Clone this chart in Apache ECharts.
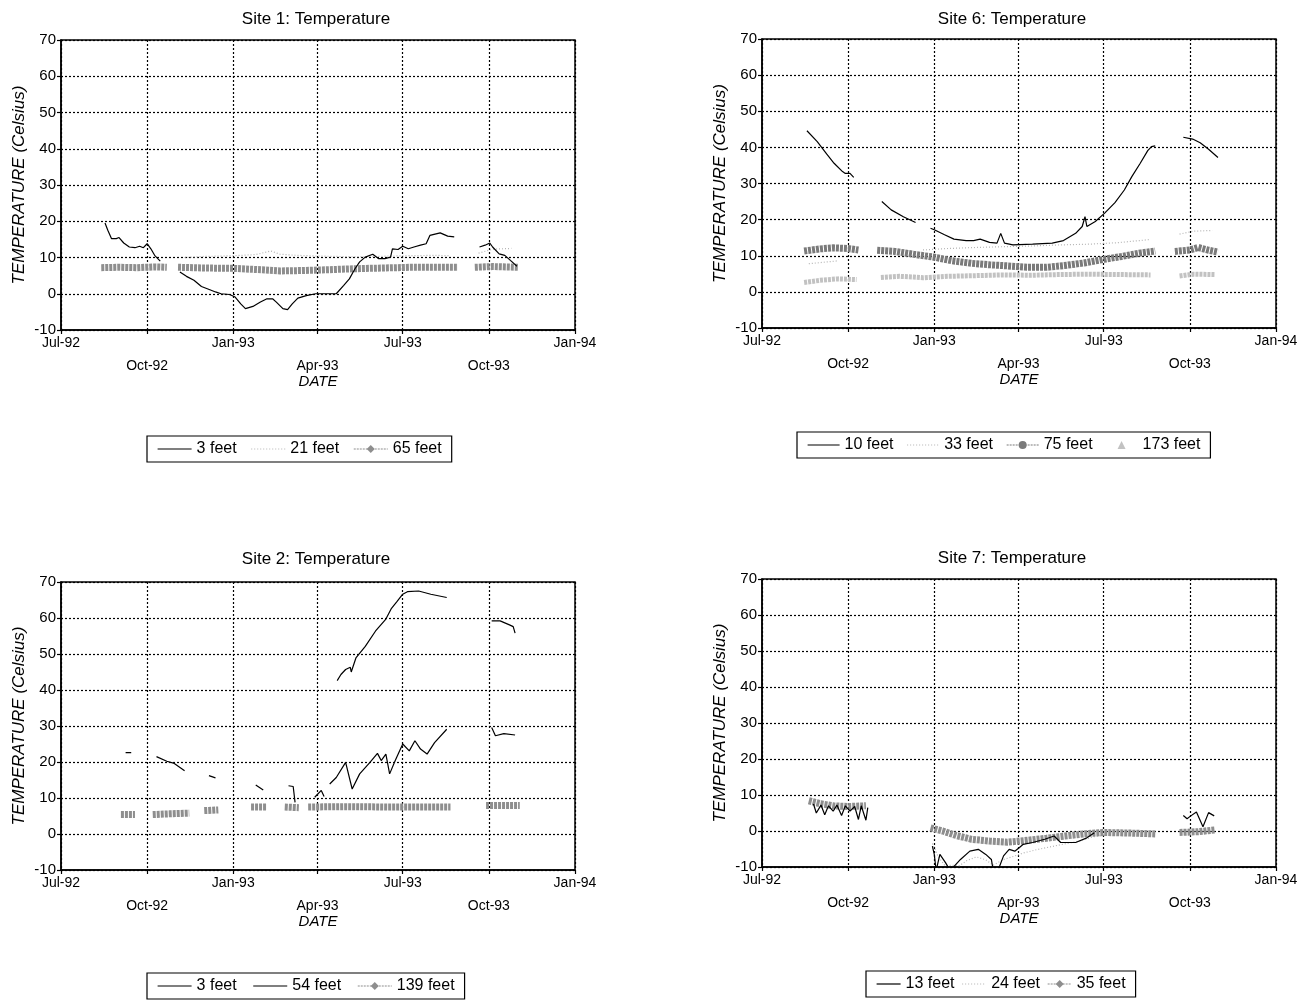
<!DOCTYPE html>
<html><head><meta charset="utf-8">
<script src="https://cdn.jsdelivr.net/npm/echarts@6/dist/echarts.min.js"></script>
<style>
html,body{margin:0;padding:0;background:#fff;}
.c{position:absolute;width:656px;height:502px;}
</style></head>
<body>
<div id="c1" class="c" style="left:0;top:0"></div>
<div id="c6" class="c" style="left:656px;top:0"></div>
<div id="c2" class="c" style="left:0;top:502px"></div>
<div id="c7" class="c" style="left:656px;top:502px"></div>
<script>
// ---------- DATA ----------
const tickDates  = ['1992-07-01','1992-10-01','1993-01-01','1993-04-01','1993-07-01','1993-10-01','1994-01-01'];
const tickLabels = ['Jul-92','Oct-92','Jan-93','Apr-93','Jul-93','Oct-93','Jan-94'];
const yTicks = [-10,0,10,20,30,40,50,60,70];

// Site 1
const s1_3ft = [['1992-08-17',19.5],['1992-08-20',17.5],['1992-08-24',15.2],['1992-08-29',15.2],['1992-09-01',15.5],['1992-09-06',14.0],['1992-09-12',12.9],['1992-09-18',12.7],['1992-09-23',13.1],['1992-09-27',12.7],['1992-10-01',13.8],['1992-10-05',12.4],['1992-10-09',10.6],['1992-10-15',9.0],
['1992-10-25',null],
['1992-11-05',6.0],['1992-11-12',4.8],['1992-11-20',3.7],['1992-11-28',2.0],['1992-12-07',1.1],['1992-12-13',0.5],['1992-12-19',0.0],['1992-12-28',-0.2],['1993-01-03',-0.9],['1993-01-09',-2.8],['1993-01-14',-4.1],['1993-01-22',-3.5],['1993-01-30',-2.3],['1993-02-06',-1.4],['1993-02-12',-1.4],['1993-02-16',-2.3],['1993-02-23',-4.1],['1993-02-28',-4.4],['1993-03-05',-2.8],['1993-03-11',-1.2],['1993-03-20',-0.5],['1993-03-30',0.0],['1993-04-12',0.0],['1993-04-21',0.0],['1993-04-29',2.3],['1993-05-05',4.1],['1993-05-11',6.9],['1993-05-16',8.8],['1993-05-22',10.1],['1993-05-30',10.9],['1993-06-05',9.7],['1993-06-12',9.7],['1993-06-18',10.1],['1993-06-20',12.4],['1993-06-26',12.2],['1993-07-01',13.1],['1993-07-07',12.4],['1993-07-13',12.9],['1993-07-20',13.4],['1993-07-26',13.8],['1993-07-30',16.1],['1993-08-10',16.8],['1993-08-18',15.9],['1993-08-25',15.7],
['1993-09-10',null],
['1993-09-21',12.9],['1993-09-27',13.4],['1993-10-02',14.0],['1993-10-05',12.9],['1993-10-12',11.0],['1993-10-18',10.6],['1993-10-24',9.2],['1993-10-31',7.6]];
const s1_21ft = [['1992-11-10',10.0],['1992-12-01',10.3],['1992-12-20',10.4],['1993-01-10',10.6],['1993-01-25',10.8],['1993-02-10',11.8],['1993-02-20',10.9],['1993-03-10',10.6],['1993-04-01',10.4],['1993-04-20',10.3],['1993-05-10',10.2],['1993-06-01',10.3],['1993-06-20',10.4],['1993-07-10',10.5],['1993-08-05',10.6],['1993-08-20',10.5],
['1993-09-05',null],['1993-09-20',11.2],['1993-10-05',12.3],['1993-10-25',12.5]];
const s1_65ft = [['1992-08-13',7.2],['1992-09-01',7.3],['1992-09-20',7.2],['1992-10-10',7.4],['1992-10-22',7.3],
['1992-10-28',null],
['1992-11-03',7.3],['1992-12-01',7.1],['1993-01-01',7.0],['1993-02-01',6.6],['1993-02-20',6.3],['1993-03-15',6.4],['1993-04-10',6.6],['1993-05-10',6.9],['1993-06-10',7.1],['1993-07-10',7.3],['1993-08-29',7.3],
['1993-09-08',null],
['1993-09-16',7.3],['1993-10-05',7.5],['1993-11-01',7.3]];

// Site 6
const s6_10ft = [['1992-08-18',44.6],['1992-08-29',41.6],['1992-09-08',38.2],['1992-09-16',35.6],['1992-09-25',33.3],['1992-09-28',32.8],['1992-10-03',32.8],['1992-10-07',31.7],
['1992-10-20',null],
['1992-11-06',25.0],['1992-11-16',22.7],['1992-11-29',20.8],['1992-12-12',19.2],
['1992-12-20',null],
['1992-12-28',17.6],['1993-01-01',17.2],['1993-01-12',15.8],['1993-01-22',14.6],['1993-02-04',14.2],['1993-02-12',14.2],['1993-02-19',14.6],['1993-03-01',13.7],['1993-03-09',13.5],['1993-03-13',16.2],['1993-03-17',13.5],['1993-03-26',13.0],['1993-04-16',13.2],['1993-05-07',13.5],['1993-05-19',14.2],['1993-06-01',16.2],['1993-06-08',18.1],['1993-06-11',20.8],['1993-06-13',18.1],['1993-06-22',19.5],['1993-07-02',21.8],['1993-07-13',24.7],['1993-07-23',28.2],['1993-07-31',31.9],['1993-08-09',35.6],['1993-08-17',39.1],['1993-08-21',40.2],['1993-08-25',40.4],
['1993-09-10',null],
['1993-09-24',42.8],['1993-10-04',42.3],['1993-10-12',41.3],['1993-10-21',39.5],['1993-10-31',37.2]];
const s6_33ft = [['1992-08-20',7.8],['1992-09-05',8.2],['1992-09-20',8.6],
['1992-10-01',null],
['1992-12-20',11.6],['1993-01-15',12.0],['1993-02-15',12.3],['1993-03-15',12.5],['1993-04-15',12.7],['1993-05-15',13.0],['1993-06-15',13.2],['1993-07-15',13.6],['1993-08-20',14.5],
['1993-09-05',null],
['1993-09-20',16.0],['1993-10-05',16.8],['1993-10-25',17.0]];
const s6_75ft = [['1992-08-15',11.3],['1992-09-01',11.9],['1992-09-15',12.2],['1992-10-01',12.0],['1992-10-12',11.6],
['1992-10-20',null],
['1992-11-01',11.5],['1992-11-20',11.2],['1992-12-10',10.4],['1993-01-01',9.6],['1993-01-20',8.6],['1993-02-10',7.9],['1993-03-01',7.5],['1993-03-20',7.2],['1993-04-10',6.8],['1993-05-01',6.8],['1993-05-20',7.3],['1993-06-10',8.0],['1993-07-01',9.0],['1993-07-20',9.8],['1993-08-10',10.8],['1993-08-25',11.3],
['1993-09-05',null],
['1993-09-15',11.2],['1993-10-01',11.6],['1993-10-10',12.3],['1993-10-20',11.6],['1993-10-31',11.0]];
const s6_173ft = [['1992-08-15',2.6],['1992-09-01',3.2],['1992-09-20',3.6],['1992-10-10',3.4],
['1992-10-25',null],
['1992-11-05',4.0],['1992-11-25',4.3],['1992-12-10',4.1],['1992-12-20',3.9],['1993-01-15',4.3],['1993-02-15',4.5],['1993-03-15',4.7],['1993-04-15',4.6],['1993-05-15',4.8],['1993-06-15',4.9],['1993-07-15',4.8],['1993-08-20',4.7],
['1993-09-05',null],
['1993-09-20',4.4],['1993-10-05',4.9],['1993-10-28',4.8]];

// Site 2
const s2_3ft = [['1993-04-22',42.6],['1993-04-26',44.3],['1993-05-01',45.7],['1993-05-06',46.3],['1993-05-07',45.0],['1993-05-12',48.9],['1993-05-22',52.1],['1993-06-02',56.4],['1993-06-13',59.7],['1993-06-19',62.7],['1993-06-25',64.6],['1993-07-01',66.6],['1993-07-06',67.3],['1993-07-18',67.5],['1993-07-31',66.6],['1993-08-17',65.7],
['1993-09-01',null],
['1993-10-04',59.2],['1993-10-13',59.2],['1993-10-23',58.1],['1993-10-27',57.6],['1993-10-29',55.8]];
const s2_54ft = [['1992-09-08',22.6],['1992-09-14',22.6],
['1992-09-25',null],
['1992-10-11',21.5],['1992-10-22',20.2],['1992-10-30',19.6],['1992-11-10',17.6],
['1992-11-20',null],
['1992-12-06',16.2],['1992-12-13',15.6],
['1993-01-01',null],
['1993-01-25',13.6],['1993-02-02',12.2],
['1993-02-15',null],
['1993-03-01',13.4],['1993-03-06',13.2],['1993-03-08',8.8],
['1993-03-20',null],
['1993-03-29',10.2],['1993-04-05',12.1],['1993-04-08',10.4],
['1993-04-11',null],
['1993-04-14',13.9],['1993-04-21',15.7],['1993-05-01',19.9],['1993-05-08',12.5],['1993-05-16',16.7],['1993-05-27',19.9],['1993-06-04',22.4],['1993-06-08',20.4],['1993-06-13',22.2],['1993-06-17',16.7],['1993-06-23',20.4],['1993-07-01',25.0],['1993-07-08',23.1],['1993-07-14',25.9],['1993-07-20',23.6],['1993-07-27',22.2],['1993-08-04',25.4],['1993-08-17',29.1],
['1993-09-01',null],
['1993-10-04',29.6],['1993-10-08',27.3],['1993-10-17',27.9],['1993-10-29',27.5]];
const s2_139ft = [['1992-09-03',5.4],['1992-09-18',5.4],
['1992-09-28',null],
['1992-10-07',5.4],['1992-10-25',5.6],['1992-11-15',5.8],
['1992-11-23',null],
['1992-12-01',6.5],['1992-12-16',6.7],
['1993-01-05',null],
['1993-01-20',7.5],['1993-02-06',7.5],
['1993-02-15',null],
['1993-02-25',7.5],['1993-03-12',7.3],
['1993-03-17',null],
['1993-03-22',7.5],['1993-05-01',7.6],['1993-06-15',7.5],['1993-08-21',7.5],
['1993-09-10',null],
['1993-09-28',7.9],['1993-11-03',7.9]];

// Site 7
const s7_13ft = [['1992-08-25',7.5],['1992-08-28',5.0],['1992-09-02',7.2],['1992-09-06',4.5],['1992-09-10',7.0],['1992-09-15',5.5],['1992-09-19',7.2],['1992-09-24',4.3],['1992-09-28',7.0],['1992-10-03',5.5],['1992-10-08',6.8],['1992-10-12',3.2],['1992-10-15',7.0],['1992-10-20',3.0],['1992-10-22',6.5],
['1992-11-15',null],
['1992-12-30',-4.2],['1993-01-01',-6.5],['1993-01-03',-11],['1993-01-07',-6.5],['1993-01-13',-8.8],['1993-01-18',-11],['1993-01-29',-7.9],['1993-02-08',-5.6],['1993-02-17',-5.1],['1993-02-25',-6.5],['1993-03-03',-7.9],['1993-03-05',-11],['1993-03-10',-11],['1993-03-16',-6.9],['1993-03-22',-5.1],['1993-03-28',-5.6],['1993-04-02',-4.6],['1993-04-06',-3.7],['1993-04-16',-3.2],['1993-04-29',-2.3],['1993-05-09',-1.4],['1993-05-16',-3.2],['1993-06-01',-3.2],['1993-06-13',-1.9],['1993-06-21',-0.5],
['1993-08-01',null],
['1993-09-24',4.3],['1993-09-28',3.4],['1993-10-02',4.2],['1993-10-08',5.3],['1993-10-15',1.2],['1993-10-21',5.1],['1993-10-27',4.2]];
const s7_24ft = [['1992-12-30',-3.5],['1993-01-05',-7.0],['1993-01-12',-9.5],['1993-01-28',-9.6],['1993-02-05',-8.2],['1993-02-15',-7.2],['1993-02-25',-8.0],['1993-03-05',-9.5],['1993-03-15',-8.0],['1993-03-25',-7.2],['1993-04-05',-6.2],['1993-04-20',-5.2],['1993-05-05',-4.4],['1993-05-20',-3.6],['1993-06-05',-2.8],['1993-06-20',-1.6],['1993-07-05',-1.0]];
const s7_35ft = [['1992-08-20',8.4],['1992-09-01',7.6],['1992-09-15',7.0],['1992-10-01',6.8],['1992-10-20',7.0],
['1992-11-15',null],
['1992-12-28',0.9],['1993-01-10',0.0],['1993-01-25',-1.3],['1993-02-10',-2.3],['1993-03-01',-2.8],['1993-03-20',-3.1],['1993-04-10',-2.6],['1993-05-01',-2.0],['1993-05-20',-1.4],['1993-06-10',-0.8],['1993-07-01',-0.4],['1993-08-01',-0.6],['1993-08-25',-0.8],
['1993-09-10',null],
['1993-09-20',-0.4],['1993-10-10',-0.2],['1993-10-28',0.3]];

// ---------- RENDER ----------
const FONT = '"Liberation Sans",Arial,sans-serif';
function ts(s){ const p=s.split('-').map(Number); return Date.UTC(p[0],p[1]-1,p[2]); }
const tickTs = tickDates.map(ts);

const STY = {
  solid: {lineStyle:{color:'#000',width:1.2,type:'solid'}, symbol:'circle', hideSym:true, legendLine:{width:1.2,type:'solid'}},
  faint: {lineStyle:{color:'#b4b4b4',width:1.2,type:[1,2]}, symbol:'circle', hideSym:true, legendLine:{width:1.2,type:[1,2]}},
  band:  {lineStyle:{color:'#8e8e8e',width:7,type:[3,1]}, symbol:'diamond', legendLine:{width:1.2,type:[2,1]}},
  bandDark: {lineStyle:{color:'#7a7a7a',width:7,type:[3,1]}, symbol:'circle', legendLine:{width:1.2,type:[2,1]}},
  bandLight:{lineStyle:{color:'#c2c2c2',width:5,type:[3,1]}, symbol:'triangle', legendLine:{width:0,type:'solid'}}
};

function makeChart(id, cfg){
  const ch = echarts.init(document.getElementById(id), null, {renderer:'canvas'});
  const series = cfg.series.map(s => {
    const st = STY[s.style];
    return {
      name: s.name, type:'line', data: s.data.map(p => [ts(p[0]), p[1]]),
      showSymbol:false, symbol: st.symbol, symbolSize:7,
      itemStyle:{color: st.lineStyle.color},
      lineStyle: st.lineStyle, connectNulls:false, animation:false, z: s.z||2,
      emphasis:{disabled:true}
    };
  });
  const legendData = cfg.series.map(s => {
    const st = STY[s.style];
    const d = {name:s.name, lineStyle: st.legendLine};
    if (st.hideSym) d.itemStyle = {opacity:0};
    return d;
  });
  ch.setOption({
    animation:false,
    title:{text:cfg.title, left:cfg.titleX, top:cfg.titleY, textAlign:'center',
      textStyle:{fontFamily:FONT,fontSize:17,fontWeight:'normal',color:'#000'}},
    grid:{left:cfg.grid[0], top:cfg.grid[1], width:cfg.grid[2], height:cfg.grid[3],
      show:true, borderColor:'#000', borderWidth:1.5, backgroundColor:'transparent'},
    legend:{data:legendData, left:cfg.legend[0], top:cfg.legend[1], orient:'horizontal',
      borderColor:'#000', borderWidth:1.2, padding:[5,10,5,10], itemGap:cfg.legend[3], itemWidth:cfg.legend[2], itemHeight:10,
      selectedMode:false, textStyle:{fontFamily:FONT,fontSize:16,color:'#000'}},
    xAxis:{type:'value', min:tickTs[0], max:tickTs[tickTs.length-1],
      name:'DATE', nameLocation:'middle', nameGap:44, nameMoveOverlap:false,
      nameTextStyle:{fontFamily:FONT,fontSize:15,fontStyle:'italic',color:'#000'},
      axisLine:{show:true,onZero:false,lineStyle:{color:'#000',width:1.5}},
      axisTick:{show:true,length:4,inside:false,customValues:tickTs,lineStyle:{color:'#000',width:1.2}},
      axisLabel:{customValues:tickTs, margin:2, fontFamily:FONT, fontSize:14, color:'#000', lineHeight:23,
        hideOverlap:false, showMinLabel:true, showMaxLabel:true,
        formatter:(v)=>{ const i = tickTs.indexOf(v); const lab = i>=0 ? tickLabels[i] : ''; return (i%2===1) ? '\n'+lab : lab; }},
      splitLine:{show:true, lineStyle:{color:'#000',width:1.2,type:[2,2]}}
    },
    yAxis:{type:'value', min:yTicks[0], max:yTicks[yTicks.length-1], interval:10,
      name:'TEMPERATURE (Celsius)', nameLocation:'middle', nameGap:33, nameMoveOverlap:false,
      nameTextStyle:{fontFamily:FONT,fontSize:17,fontStyle:'italic',color:'#000'},
      axisLine:{show:true,onZero:false,lineStyle:{color:'#000',width:1.5}},
      axisTick:{show:true,length:4,inside:false,lineStyle:{color:'#000',width:1.2}},
      axisLabel:{margin:5,fontFamily:FONT,fontSize:15,color:'#000'},
      splitLine:{show:true, lineStyle:{color:'#000',width:1.2,type:[2,2]}}
    },
    series
  });
}

makeChart('c1',{title:'Site 1: Temperature', titleX:311, titleY:6, grid:[61,40,514,290], legend:[147,436,34,14],
  series:[{name:'3 feet',style:'solid',data:s1_3ft,z:4},{name:'21 feet',style:'faint',data:s1_21ft},{name:'65 feet',style:'band',data:s1_65ft,z:3}]});
makeChart('c6',{title:'Site 6: Temperature', titleX:351, titleY:6, grid:[106,39,514,289], legend:[141,432,32,13],
  series:[{name:'10 feet',style:'solid',data:s6_10ft,z:5},{name:'33 feet',style:'faint',data:s6_33ft},{name:'75 feet',style:'bandDark',data:s6_75ft,z:3},{name:'173 feet',style:'bandLight',data:s6_173ft}]});
makeChart('c2',{title:'Site 2: Temperature', titleX:311, titleY:44, grid:[61,80,514,288], legend:[147,471,34,16],
  series:[{name:'3 feet',style:'solid',data:s2_3ft,z:4},{name:'54 feet',style:'solid',data:s2_54ft,z:4},{name:'139 feet',style:'band',data:s2_139ft,z:3}]});
makeChart('c7',{title:'Site 7: Temperature', titleX:351, titleY:43, grid:[106,77,514,288], legend:[210,469,24,7],
  series:[{name:'13 feet',style:'solid',data:s7_13ft,z:4},{name:'24 feet',style:'faint',data:s7_24ft},{name:'35 feet',style:'band',data:s7_35ft,z:3}]});
</script>
</body></html>
